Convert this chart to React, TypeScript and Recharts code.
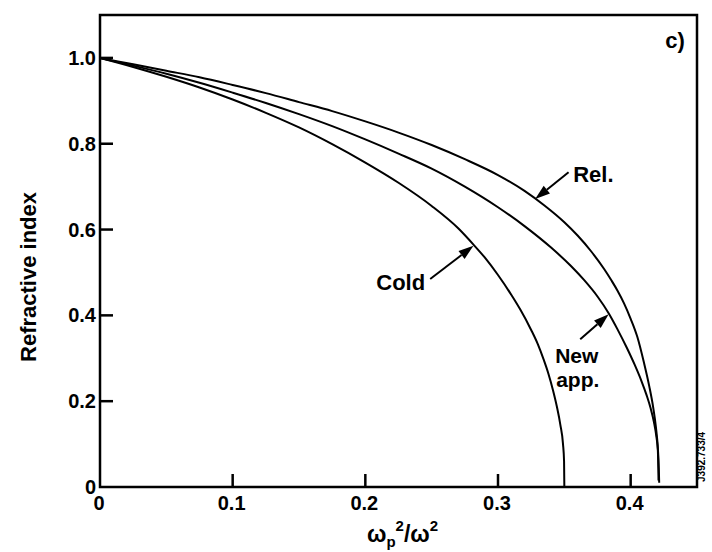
import React from "react";
import { LineChart, Line, XAxis, YAxis, ReferenceArea, ReferenceLine, ReferenceDot } from "recharts";

// curves (x = wp^2/w^2, y = refractive index)
const coldX = [0, 0.025, 0.05, 0.075, 0.1, 0.125, 0.15, 0.175, 0.2, 0.225, 0.25, 0.27, 0.2815, 0.29, 0.3, 0.31, 0.3167, 0.325, 0.33, 0.3343, 0.338, 0.3415, 0.3444, 0.347, 0.349, 0.3498, 0.35];
const coldY = [1, 0.979, 0.956, 0.931, 0.903, 0.872, 0.838, 0.799, 0.756, 0.709, 0.655, 0.603, 0.565, 0.535, 0.494, 0.448, 0.414, 0.366, 0.333, 0.298, 0.264, 0.225, 0.187, 0.145, 0.1, 0.06, 0];

const newX = [0, 0.025, 0.05, 0.075, 0.1, 0.125, 0.15, 0.175, 0.2, 0.225, 0.25, 0.275, 0.3, 0.32, 0.34, 0.355, 0.365, 0.375, 0.3834, 0.39, 0.397, 0.403, 0.408, 0.412, 0.415, 0.4175, 0.4195, 0.4205, 0.421];
const newY = [1, 0.982, 0.963, 0.942, 0.919, 0.895, 0.869, 0.841, 0.81, 0.777, 0.742, 0.7, 0.652, 0.608, 0.558, 0.515, 0.482, 0.444, 0.405, 0.368, 0.325, 0.285, 0.248, 0.214, 0.184, 0.152, 0.115, 0.085, 0.015];

const relX = [0, 0.025, 0.05, 0.075, 0.1, 0.125, 0.15, 0.175, 0.2, 0.225, 0.25, 0.275, 0.3, 0.32, 0.335, 0.35, 0.36, 0.37, 0.38, 0.3858, 0.39, 0.395, 0.4, 0.405, 0.41, 0.414, 0.417, 0.419, 0.4205, 0.4212, 0.4215];
const relY = [1, 0.985, 0.97, 0.955, 0.937, 0.918, 0.897, 0.876, 0.852, 0.826, 0.797, 0.764, 0.727, 0.69, 0.656, 0.617, 0.586, 0.55, 0.508, 0.48, 0.458, 0.428, 0.392, 0.35, 0.29, 0.235, 0.185, 0.14, 0.09, 0.045, 0.01];

const xTicks = [0, 0.1, 0.2, 0.3, 0.4];
const yTicks = [0, 0.2, 0.4, 0.6, 0.8, 1.0];

// annotation arrows (tail -> tip) and their labels, in data units
const arrows = [
  { tail: [0.3532, 0.7336], tip: [0.328, 0.671] },
  { tail: [0.2489, 0.4848], tip: [0.2815, 0.5621] },
  { tail: [0.362, 0.3442], tip: [0.3834, 0.4026] },
];
const notes = [
  { lines: ["Rel."], x: 0.3567, y: 0.711, anchor: "start", size: 22 },
  { lines: ["Cold"], x: 0.2451, y: 0.4586, anchor: "end", size: 22 },
  { lines: ["New", "app."], x: 0.3431, y: 0.288, anchor: "start", size: 21 },
  { lines: ["c)"], x: 0.426, y: 1.022, anchor: "start", size: 22 },
];

const FONT = "'Liberation Sans', Arial, Helvetica, sans-serif";

const zip = (xs: number[], ys: number[]) => xs.map((x, i) => ({ x, y: ys[i] }));
const fmt = (v: number) => (v === 0 ? "0" : v.toFixed(1));

function XTick(props: any) {
  const { x, y, payload } = props;
  return (
    <g>
      {payload.value !== 0 && <line x1={x} y1={y} x2={x} y2={y - 13} stroke="#000" strokeWidth={2.5} />}
      <text x={x - 1} y={y + 23} textAnchor="middle" fontFamily={FONT} fontWeight="bold" fontSize={20} fill="#000">
        {fmt(payload.value)}
      </text>
    </g>
  );
}

function YTick(props: any) {
  const { x, y, payload } = props;
  return (
    <g>
      {payload.value !== 0 && <line x1={x} y1={y} x2={x + 13} y2={y} stroke="#000" strokeWidth={2.5} />}
      <text x={x - 4} y={y + 7} textAnchor="end" fontFamily={FONT} fontWeight="bold" fontSize={20} fill="#000">
        {fmt(payload.value)}
      </text>
    </g>
  );
}

function ArrowShape(props: any) {
  const { x1, y1, x2, y2 } = props;
  const dx = x2 - x1;
  const dy = y2 - y1;
  const len = Math.hypot(dx, dy) || 1;
  const ux = dx / len;
  const uy = dy / len;
  const hl = 15;
  const hw = 5;
  const bx = x2 - ux * hl;
  const by = y2 - uy * hl;
  const pts = `${x2},${y2} ${bx - uy * hw},${by + ux * hw} ${bx + uy * hw},${by - ux * hw}`;
  return (
    <g>
      <line x1={x1} y1={y1} x2={bx} y2={by} stroke="#000" strokeWidth={2} />
      <polygon points={pts} fill="#000" />
    </g>
  );
}

function XLabel(props: any) {
  const vb = props.viewBox;
  const cx = vb.x + vb.width / 2 + 4;
  const by = vb.y + 55;
  return (
    <text x={cx} y={by} textAnchor="middle" fontFamily={FONT} fontWeight="bold" fontSize={23} fill="#000">
      ω
      <tspan fontSize={15} dy={5}>p</tspan>
      <tspan fontSize={15} dy={-16}>2</tspan>
      <tspan fontSize={23} dy={11}>/ω</tspan>
      <tspan fontSize={15} dy={-11}>2</tspan>
    </text>
  );
}

function YLabel(props: any) {
  const vb = props.viewBox;
  const cx = vb.x + 36;
  const cy = vb.y + vb.height / 2 + 26;
  return (
    <text
      x={cx}
      y={cy}
      transform={`rotate(-90 ${cx} ${cy})`}
      textAnchor="middle"
      fontFamily={FONT}
      fontWeight="bold"
      fontSize={22}
      fill="#000"
    >
      Refractive index
    </text>
  );
}

export default function App() {
  return (
    <div style={{ position: "absolute", left: 0, top: 0, width: 712, height: 552, background: "#fff" }}>
      <LineChart width={712} height={552} margin={{ top: 15, right: 15, left: 0, bottom: 0 }}>
        <XAxis
          type="number"
          dataKey="x"
          domain={[0, 0.45]}
          ticks={xTicks}
          interval={0}
          allowDataOverflow
          axisLine={false}
          tickLine={false}
          tickSize={0}
          tickMargin={0}
          height={65}
          tick={(p: any) => <XTick {...p} />}
          label={(p: any) => <XLabel {...p} />}
        />
        <YAxis
          type="number"
          dataKey="y"
          domain={[0, 1.1]}
          ticks={yTicks}
          interval={0}
          allowDataOverflow
          axisLine={false}
          tickLine={false}
          tickSize={0}
          tickMargin={0}
          width={100}
          tick={(p: any) => <YTick {...p} />}
          label={(p: any) => <YLabel {...p} />}
        />
        <ReferenceArea x1={0} x2={0.45} y1={0} y2={1.1} fill="none" stroke="#000" strokeWidth={2.5} ifOverflow="visible" />
        <Line data={zip(coldX, coldY)} dataKey="y" type="monotone" stroke="#000" strokeWidth={2} dot={false} isAnimationActive={false} />
        <Line data={zip(newX, newY)} dataKey="y" type="monotone" stroke="#000" strokeWidth={2} dot={false} isAnimationActive={false} />
        <Line data={zip(relX, relY)} dataKey="y" type="monotone" stroke="#000" strokeWidth={2} dot={false} isAnimationActive={false} />
        {arrows.map((a, i) => (
          <ReferenceLine
            key={`arrow-${i}`}
            segment={[{ x: a.tail[0], y: a.tail[1] }, { x: a.tip[0], y: a.tip[1] }]}
            shape={(p: any) => <ArrowShape {...p} />}
            ifOverflow="visible"
          />
        ))}
        {notes.map((n, i) => (
          <ReferenceDot
            key={`note-${i}`}
            x={n.x}
            y={n.y}
            ifOverflow="visible"
            shape={(p: any) => (
              <text x={p.cx} y={p.cy} textAnchor={n.anchor} fontFamily={FONT} fontWeight="bold" fontSize={n.size} fill="#000">
                {n.lines.map((t, j) => (
                  <tspan key={j} x={p.cx + j * 1} dy={j === 0 ? 0 : 24}>
                    {t}
                  </tspan>
                ))}
              </text>
            )}
          />
        ))}
        <ReferenceDot
          x={0.45}
          y={0.07}
          ifOverflow="visible"
          shape={(p: any) => (
            <text
              x={p.cx + 8}
              y={p.cy}
              transform={`rotate(-90 ${p.cx + 8} ${p.cy})`}
              textAnchor="middle"
              fontFamily={FONT}
              fontWeight="bold"
              fontSize={10}
              fill="#000"
            >
              J392.733/4
            </text>
          )}
        />
      </LineChart>
    </div>
  );
}
